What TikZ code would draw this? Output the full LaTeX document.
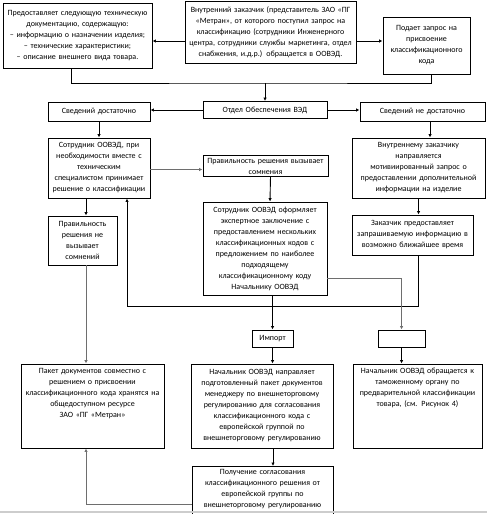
\documentclass[tikz,border=0pt]{standalone}
\usepackage{fontspec}
\setmainfont{Carlito}
\usepackage{tikz}
\usetikzlibrary{arrows.meta}
\usepackage{xcolor}
\definecolor{ColWhite}{RGB}{255,255,255}
\definecolor{ColLine}{RGB}{0,0,0}
\definecolor{ColGrey}{RGB}{110,110,110}
\definecolor{ColPage}{RGB}{205,205,205}
\tikzstyle{BoxNode}=[draw=ColLine,fill=ColWhite,line width=0.9pt,inner sep=2pt,align=center,
font=\fontsize{8}{11}\selectfont]
\tikzstyle{EdgeLine}=[ColLine,line width=0.9pt]
\tikzstyle{EdgeFlow}=[EdgeLine,-{Latex[length=3.5pt,width=3.5pt]}]
\tikzstyle{EdgeGrey}=[EdgeFlow,draw=ColGrey]

\begin{document}
\begin{tikzpicture}[x=1pt,y=-1pt]
        \clip(0,0)rectangle(487,514);
        % top row
        \node[BoxNode,text width=145,minimum height=65](doc)at(77.5,35.5){Предоставляет следующую техническую\\документацию, содержащую:\\– информацию о назначении изделия;\\– технические характеристики;\\– описание внешнего вида товара.};
        \node[BoxNode,text width=167,minimum height=62](cust)at(270.5,32){Внутренний заказчик (представитель ЗАО «ПГ\\«Метран», от которого поступил запрос на\\классификацию (сотрудники Инженерного\\центра, сотрудники службы маркетинга, отдел\\снабжения, и.д.р.) обращается в ООВЭД.};
        \node[BoxNode,text width=83,minimum height=57](req)at(426.5,45.5){Подает запрос на\\присвоение\\классификационного\\кода};
        % second row
        \node[BoxNode,text width=98,minimum height=19](enough)at(99,111.5){Сведений достаточно};
        \node[BoxNode,text width=120,minimum height=17](dept)at(265,110){Отдел Обеспечения ВЭД};
        \node[BoxNode,text width=121,minimum height=19](notenough)at(422.5,111.5){Сведений не достаточно};
        % third row
        \node[BoxNode,text width=98,minimum height=60](staff)at(99,168){Сотрудник ООВЭД, при\\необходимости вместе с\\техническим\\специалистом принимает\\решение о классификации};
        \node[BoxNode,text width=121,minimum height=20](doubt)at(265.5,166){Правильность решения вызывает\\сомнения};
        \node[BoxNode,text width=129,minimum height=60](inreq)at(418.5,168){Внутреннему заказчику\\направляется\\мотивиированный запрос о\\предоставлении дополнительной\\информации на изделие};
        % fourth row
        \node[BoxNode,text width=65,minimum height=49](nodoubt)at(82.5,240.5){Правильность\\решения не\\вызывает\\сомнений};
        \node[BoxNode,text width=120,minimum height=93](expert)at(265,248.5){Сотрудник ООВЭД оформляет\\экспертное заключение с\\предоставлением нескольких\\классификационных кодов с\\предложением по наиболее\\подходящему\\классификационному коду\\Начальнику ООВЭД};
        \node[BoxNode,text width=117,minimum height=40](supply)at(412.5,235){Заказчик предоставляет\\запрашиваемую информацию в\\возможно ближайшее время};
        % fifth row
        \node[BoxNode,text width=37,minimum height=17](import)at(272.5,338.5){Импорт};
        \node[BoxNode,minimum width=47,minimum height=17](empty)at(401.5,338.5){};
        % sixth row
        \node[BoxNode,text width=139,text height=7,text depth=73](pack)at(92.5,406){Пакет документов совместно с\\решением о присвоении\\классификационного кода хранятся на\\общедоступном ресурсе\\ЗАО «ПГ «Метран»};
        \node[BoxNode,text width=138,minimum height=84](send)at(262,406){Начальник ООВЭД направляет\\подготовленный пакет документов\\менеджеру по внешнеторговому\\регулированию для согласования\\классификационного кода с\\европейской группой по\\внешнеторговому регулированию};
        \node[BoxNode,text width=125,text height=7,text depth=73](customs)at(417.5,406){Начальник ООВЭД обращается к\\таможенному органу по\\предварительной классификации\\товара, (см. Рисунок 4)};
        \node[BoxNode,text width=137,text height=6,text depth=50,anchor=north](approval)at(262.5,466){Получение согласования\\классификационного решения от\\европейской группы по\\внешнеторговому регулированию};
        % connectors
        \coordinate(jn)at(265,83);
        \draw[EdgeFlow]([yshift=-9pt]cust.west)--([yshift=-5.5pt]doc.east);
        \draw[EdgeFlow]([yshift=-9pt]cust.east)--([yshift=4.5pt]req.west);
        \draw[EdgeLine]([xshift=-6.5pt]doc.south)|-(jn)-|([xshift=4.5pt]req.south);
        \draw[EdgeFlow](jn)--(dept.north);
        \draw[EdgeFlow](dept.west)--(enough.east|-dept.west);
        \draw[EdgeFlow](dept.east)--(notenough.west|-dept.east);
        \draw[EdgeFlow](enough.south)--(staff.north);
        \draw[EdgeGrey]([yshift=-1.5pt]staff.east)--([yshift=-1.5pt]staff.east-|doubt.west);
        \draw[EdgeFlow]([xshift=7.5pt]notenough.south)--([xshift=7.5pt]notenough.south|-inreq.north);
        \draw[EdgeFlow](inreq.south)--(inreq.south|-supply.north);
        \draw[EdgeFlow]([xshift=3.5pt]nodoubt.north|-staff.south)--([xshift=3.5pt]nodoubt.north);
        \draw[EdgeGrey]([xshift=3.5pt]nodoubt.south)--([xshift=3.5pt]nodoubt.south|-pack.north);
        \draw[EdgeFlow]([xshift=5pt]doubt.south)--([xshift=5pt]expert.north);
        \draw[EdgeFlow]([xshift=5.5pt]supply.south)--++(0,51)-|([xshift=28pt]staff.south);
        \draw[EdgeFlow](import.north|-expert.south)--(import.north);
        \draw[EdgeGrey]([yshift=-29.5pt]expert.east)-|(empty.north);
        \draw[EdgeFlow](import.south)--(import.south|-send.north);
        \draw[EdgeFlow](empty.south)--(empty.south|-customs.north);
        \draw[EdgeFlow]([xshift=11pt]send.south)--([xshift=11pt]send.south|-approval.north);
        \draw[EdgeGrey]([yshift=-38pt]approval.north west)-|([xshift=-6.5pt]pack.south);
        \draw[ColPage,line width=1.5pt](0,512)--(487,512);
    \end{tikzpicture}
\end{document}
